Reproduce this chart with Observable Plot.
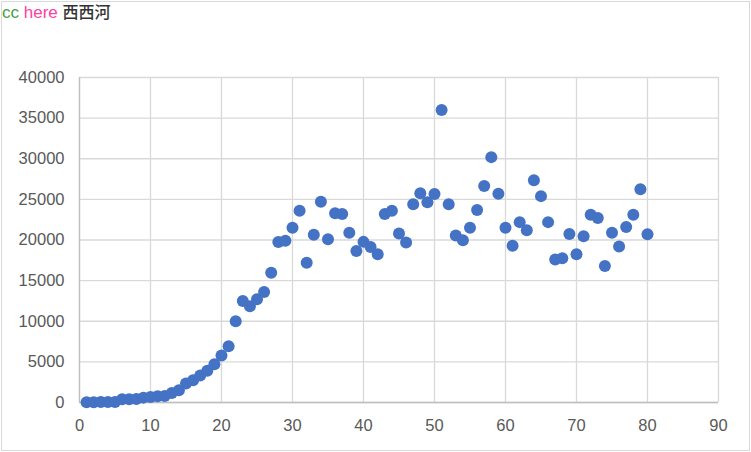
<!DOCTYPE html>
<html>
<head>
<meta charset="utf-8">
<script src="https://cdn.jsdelivr.net/npm/d3@7"></script>
<script src="https://cdn.jsdelivr.net/npm/@observablehq/plot@0.6"></script>
<style>
  html, body { margin: 0; padding: 0; background: #fff; }
  #wrap { position: relative; width: 751px; height: 452px; }
  #wm { position: absolute; left: 2px; top: 0px; font-family: "Liberation Sans", "Noto Sans CJK SC", sans-serif; font-size: 17px; line-height: 22px; white-space: nowrap; }
  #wm .c1 { color: #47a047; }
  #wm .c2 { color: #ff40a0; }
  #wm .c3 { color: #333333; font-family: "Noto Sans CJK SC", sans-serif; font-size: 16px; font-weight: 500; }
  svg { outline: 1px solid #d9d9d9; outline-offset: -2px; }
</style>
</head>
<body>
<div id="wrap"><div id="chart"></div><div id="wm"><span class="c1">cc</span> <span class="c2">here</span> <span class="c3">西西河</span></div></div>
<script>
const days = [1,2,3,4,5,6,7,8,9,10,11,12,13,14,15,16,17,18,19,20,
  21,22,23,24,25,26,27,28,29,30,31,32,33,34,35,36,37,38,39,40,
  41,42,43,44,45,46,47,48,49,50,51,52,53,54,55,56,57,58,59,60,
  61,62,63,64,65,66,67,68,69,70,71,72,73,74,75,76,77,78,79,80];
const values = [40,40,50,50,60,400,400,430,600,690,780,790,1180,1500,2340,2740,3320,3900,4700,5780,
  6930,10000,12500,11850,12700,13600,15960,19750,19900,21500,23600,17200,20650,24700,20100,23300,23200,20900,18660,19770,
  19150,18250,23200,23600,20800,19700,24400,25750,24650,25650,36000,24400,20550,19970,21500,23700,26660,30200,25700,21500,
  19300,22200,21200,27360,25400,22200,17600,17760,20750,18250,20470,23100,22700,16800,20900,19200,21600,23100,26250,20700];
const xTicks = [0,10,20,30,40,50,60,70,80,90];
const yTicks = [0,5000,10000,15000,20000,25000,30000,35000,40000];

const data = days.map((d, i) => ({day: d, value: values[i]}));

const chart = Plot.plot({
  width: 751,
  height: 452,
  marginLeft: 79,
  marginRight: 33,
  marginTop: 77,
  marginBottom: 50,
  style: {fontFamily: "Liberation Sans, sans-serif", fontSize: "16px", color: "#595959", background: "#fff"},
  x: {domain: [0, 90], ticks: xTicks},
  y: {domain: [0, 40000], ticks: yTicks},
  marks: [
    Plot.gridX(xTicks, {stroke: "#d9d9d9", strokeOpacity: 1, strokeWidth: 1.3}),
    Plot.gridY(yTicks, {stroke: "#d9d9d9", strokeOpacity: 1, strokeWidth: 1.3}),
    Plot.ruleY([0], {stroke: "#bfbfbf", strokeWidth: 1.5}),
    Plot.ruleX([0], {stroke: "#bfbfbf", strokeWidth: 1.3}),
    Plot.axisX(xTicks, {tickSize: 0, tickPadding: 17, label: null, fontSize: 16.5}),
    Plot.axisY(yTicks, {tickSize: 0, tickPadding: 15, label: null, fontSize: 16.5, tickFormat: d => String(d)}),
    Plot.dot(data, {x: "day", y: "value", r: 6, fill: "#4472c4", stroke: "none"})
  ]
});
document.getElementById("chart").appendChild(chart);
</script>
</body>
</html>
